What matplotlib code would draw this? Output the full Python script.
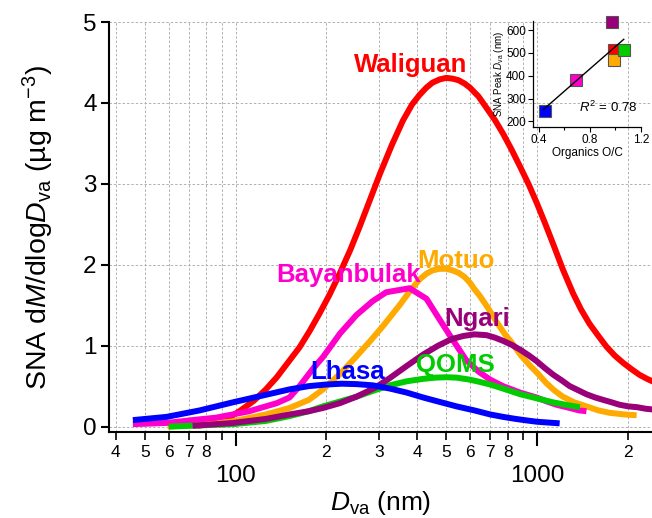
import numpy as np
import matplotlib
matplotlib.use("Agg")
import matplotlib.pyplot as plt
from matplotlib.ticker import FixedLocator, FuncFormatter

plt.rcParams['font.family'] = ['Liberation Sans', 'DejaVu Sans']
plt.rcParams['mathtext.fontset'] = 'custom'
plt.rcParams['mathtext.rm'] = 'Liberation Sans'
plt.rcParams['mathtext.it'] = 'Liberation Sans:italic'
plt.rcParams['mathtext.bf'] = 'Liberation Sans:bold'

# size distributions, Dva (nm) vs SNA dM/dlogDva
lhasa_d = [45.6, 59, 76, 98, 125, 151, 175, 200, 225, 252, 285, 325, 370, 419, 470, 541, 620,
           700, 772, 850, 930, 1000, 1090, 1190]
lhasa_y = [0.08, 0.12, 0.20, 0.30, 0.39, 0.46, 0.50, 0.52, 0.53, 0.525, 0.51, 0.47, 0.42, 0.36,
           0.31, 0.25, 0.20, 0.15, 0.12, 0.095, 0.075, 0.06, 0.05, 0.04]

bayan_d = [45.6, 59, 76, 86, 111, 137, 151, 163, 181, 195, 222, 252, 285, 316, 378, 430, 476,
           526, 583, 640, 700, 772, 880, 997, 1080, 1160, 1285, 1380, 1460]
bayan_y = [0.03, 0.045, 0.09, 0.11, 0.19, 0.29, 0.36, 0.50, 0.72, 0.86, 1.15, 1.38, 1.55, 1.66,
           1.71, 1.58, 1.32, 1.07, 0.82, 0.68, 0.58, 0.50, 0.42, 0.36, 0.31, 0.27, 0.23, 0.20, 0.19]

motuo_d = [59.5, 75, 98, 126, 151, 175, 195, 222, 252, 280, 308, 330, 350, 380, 408, 430, 450,
           475, 500, 525, 550, 575, 599, 620, 645, 690, 733, 780, 832, 885, 945, 1010, 1073,
           1140, 1219, 1330, 1460, 1600, 1744, 1950, 2143]
motuo_y = [0.0, 0.02, 0.065, 0.15, 0.23, 0.33, 0.46, 0.65, 0.87, 1.06, 1.24, 1.38, 1.50, 1.68,
           1.82, 1.89, 1.93, 1.95, 1.95, 1.93, 1.90, 1.85, 1.78, 1.70, 1.62, 1.46, 1.30, 1.15,
           1.02, 0.88, 0.76, 0.65, 0.54, 0.45, 0.37, 0.30, 0.25, 0.20, 0.17, 0.15, 0.14]

wali_d = [75, 86, 95, 103, 115, 126, 137, 147, 163, 176, 190, 205, 222, 240, 258, 279, 301, 330,
          359, 385, 408, 430, 450, 475, 500, 525, 550, 575, 599, 640, 680, 725, 772, 825, 880,
          940, 1000, 1065, 1134, 1220, 1317, 1400, 1495, 1600, 1700, 1810, 1930, 2060, 2190,
          2320, 2450]
wali_y = [0.01, 0.05, 0.11, 0.19, 0.32, 0.46, 0.61, 0.76, 0.98, 1.18, 1.40, 1.63, 1.90, 2.18,
          2.47, 2.80, 3.12, 3.48, 3.78, 3.98, 4.10, 4.19, 4.25, 4.29, 4.31, 4.30, 4.28, 4.24,
          4.19, 4.08, 3.94, 3.79, 3.62, 3.42, 3.21, 2.99, 2.76, 2.51, 2.25, 1.94, 1.65, 1.45,
          1.27, 1.12, 0.99, 0.88, 0.79, 0.71, 0.64, 0.59, 0.55]

ngari_d = [72, 98, 126, 151, 175, 195, 222, 252, 290, 325, 370, 419, 470, 520, 570, 620, 680,
           725, 772, 825, 880, 940, 997, 1065, 1134, 1210, 1285, 1370, 1460, 1560, 1660, 1770,
           1880, 2010, 2150, 2300, 2450]
ngari_y = [0.01, 0.045, 0.095, 0.15, 0.19, 0.23, 0.29, 0.37, 0.48, 0.60, 0.75, 0.89, 1.00,
           1.08, 1.12, 1.14, 1.13, 1.10, 1.06, 1.01, 0.95, 0.88, 0.81, 0.72, 0.64, 0.57, 0.50,
           0.45, 0.40, 0.36, 0.33, 0.30, 0.27, 0.25, 0.24, 0.22, 0.21]

qoms_d = [60, 98, 126, 151, 175, 195, 222, 252, 290, 325, 370, 419, 460, 500, 541, 599, 650,
          700, 772, 880, 997, 1130, 1285, 1390]
qoms_y = [0.0, 0.03, 0.07, 0.13, 0.19, 0.25, 0.31, 0.37, 0.45, 0.51, 0.56, 0.59, 0.605, 0.61,
          0.605, 0.58, 0.55, 0.52, 0.47, 0.40, 0.35, 0.30, 0.26, 0.24]

# inset: organics O/C vs SNA peak Dva
sites = ["Lhasa", "Bayanbulak", "Waliguan", "Motuo", "QOMS", "Ngari"]
org_oc = [0.449, 0.691, 0.987, 0.987, 1.07, 0.977]
peak_dva = [246, 380, 512, 470, 512, 636]
r2_text = "0.78"

colors = {"Lhasa": "#0000FF", "Bayanbulak": "#FF00CC", "Waliguan": "#FF0000",
          "Motuo": "#FFAA00", "QOMS": "#00CC00", "Ngari": "#99007A"}

fig = plt.figure(figsize=(6.52, 5.18), dpi=100)
ax = fig.add_axes([0.1672, 0.166, 0.8328, 0.7915])

series = [("Waliguan", wali_d, wali_y), ("Motuo", motuo_d, motuo_y),
          ("Bayanbulak", bayan_d, bayan_y), ("QOMS", qoms_d, qoms_y),
          ("Ngari", ngari_d, ngari_y), ("Lhasa", lhasa_d, lhasa_y)]
for name, d, y in series:
    ax.plot(d, y, color=colors[name], lw=4.3, solid_capstyle='butt', solid_joinstyle='round')

# curve labels (x in nm, baseline y)
labels = [("Waliguan", 381, 4.38), ("Motuo", 537, 1.96), ("Bayanbulak", 237, 1.79),
          ("Ngari", 632, 1.24), ("QOMS", 535, 0.68), ("Lhasa", 236, 0.59)]
for name, x, y in labels:
    ax.text(x, y, name, color=colors[name], fontsize=18.5, fontweight='bold',
            ha='center', va='baseline')

ax.set_xscale('log')
ax.set_xlim(38, 2410)
ax.set_ylim(-0.067, 5)

ax.xaxis.set_major_locator(FixedLocator([100, 1000]))
ax.xaxis.set_major_formatter(FuncFormatter(lambda v, p: "%d" % v))
minors = [40, 50, 60, 70, 80, 90, 200, 300, 400, 500, 600, 700, 800, 900, 2000]
ax.xaxis.set_minor_locator(FixedLocator(minors))


def minor_fmt(v, p):
    lead = int(round(v / 10 ** np.floor(np.log10(v))))
    return "" if lead == 9 else str(lead)


ax.xaxis.set_minor_formatter(FuncFormatter(minor_fmt))
ax.set_yticks([0, 1, 2, 3, 4, 5])

ax.tick_params(axis='x', which='major', direction='out', length=10, width=1.5, pad=14, labelsize=17.5)
ax.tick_params(axis='x', which='minor', direction='out', length=6, width=1.2, pad=3, labelsize=12.5)
ax.tick_params(axis='y', which='major', direction='out', length=6, width=1.5, pad=3, labelsize=17.5)

ax.grid(True, which='both', axis='x', color='#b0b0b0', lw=0.7, ls=(0, (2.5, 2)))
ax.grid(True, which='major', axis='y', color='#b0b0b0', lw=0.7, ls=(0, (2.5, 2)))
ax.set_axisbelow(True)

for s in ['top', 'right']:
    ax.spines[s].set_visible(False)
for s in ['left', 'bottom']:
    ax.spines[s].set_linewidth(1.5)

ax.set_xlabel("$\\mathit{D}_{\\mathrm{va}}$ (nm)", fontsize=19, labelpad=1)
ax.set_ylabel("SNA d$\\mathit{M}$/dlog$\\mathit{D}_{\\mathrm{va}}$ (µg m$^{-3}$)", fontsize=20.5)
ax.yaxis.set_label_coords(-0.098, 0.5)

# inset
ax_in = fig.add_axes([533 / 652, 1 - 127 / 518, 108 / 652, 106 / 518])
ax_in.set_facecolor('none')
for i, name in enumerate(sites):
    ax_in.plot(org_oc[i], peak_dva[i], 's', ms=8, color=colors[name], mec='#555555', mew=0.8,
               zorder=3, clip_on=False)

slope, icpt = np.polyfit(org_oc, peak_dva, 1)
xf = np.array([min(org_oc) - 0.012, max(org_oc) - 0.005])
ax_in.plot(xf, slope * xf + icpt, color='black', lw=1.0, zorder=4)

ax_in.text(0.94, 262, "$\\mathit{R}^2$ = " + r2_text, fontsize=9.5, ha='center', va='center')

ax_in.set_xlim(0.355, 1.2)
ax_in.set_ylim(175, 640)
ax_in.set_xticks([0.4, 0.8, 1.2])
ax_in.set_xticks([0.6, 1.0], minor=True)
ax_in.set_yticks([200, 300, 400, 500, 600])
ax_in.tick_params(which='major', direction='out', length=3.5, width=0.8, pad=1.5, labelsize=8.5)
ax_in.tick_params(which='minor', direction='out', length=2, width=0.8)
for s in ['top', 'right']:
    ax_in.spines[s].set_visible(False)
for s in ['left', 'bottom']:
    ax_in.spines[s].set_linewidth(0.9)
ax_in.set_xlabel("Organics O/C", fontsize=8.5, labelpad=1)
ax_in.set_ylabel("SNA Peak $\\mathit{D}_{\\mathrm{va}}$ (nm)", fontsize=7, labelpad=0)

fig.savefig("out.png", dpi=100)
